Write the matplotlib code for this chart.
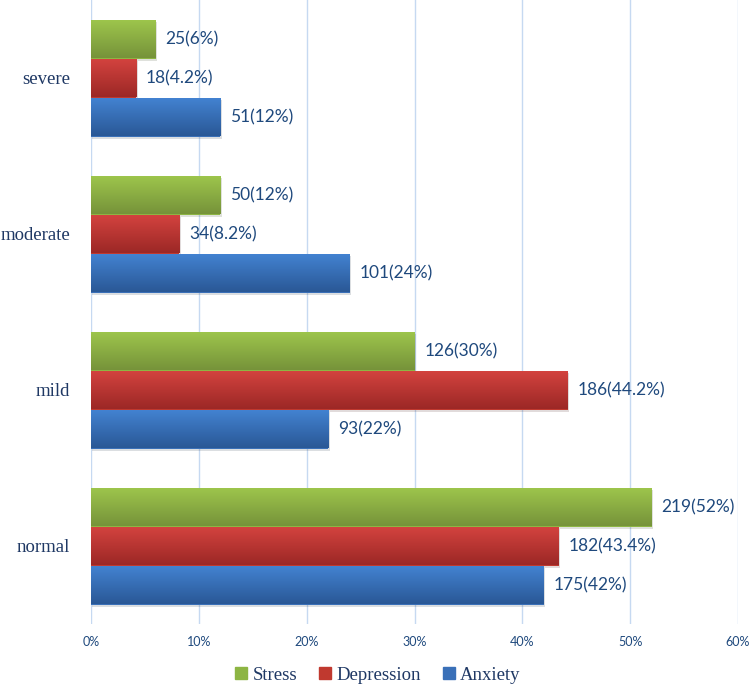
import numpy as np
import matplotlib
matplotlib.use("Agg")
import matplotlib.pyplot as plt
from matplotlib.colors import LinearSegmentedColormap
from matplotlib.patches import Patch
import matplotlib.patheffects as pe

categories = ["normal", "mild", "moderate", "severe"]
series = ["Anxiety", "Depression", "Stress"]

anxiety_pct = [42, 22, 24, 12]
depression_pct = [43.4, 44.2, 8.2, 4.2]
stress_pct = [52, 30, 12, 6]

anxiety_n = [175, 93, 101, 51]
depression_n = [182, 186, 34, 18]
stress_n = [219, 126, 50, 25]

ticks = [0, 10, 20, 30, 40, 50, 60]

# gradient colours (top, bottom) per series
grad = {
    "Anxiety": ("#4383d2", "#2a5896"),
    "Depression": ("#d4433f", "#9c2826"),
    "Stress": ("#9ec64c", "#76933a"),
}
solid = {"Anxiety": "#3a70b8", "Depression": "#c0392f", "Stress": "#8db543"}

navy = "#1f3864"
label_blue = "#1f497d"

fig = plt.figure(figsize=(7.5, 6.86), dpi=100)
ax = fig.add_axes([91 / 750, (686 - 624) / 686, (738 - 91) / 750, 624 / 686])

y = np.arange(len(categories))
h = 0.25
data = [(anxiety_pct, anxiety_n, -h), (depression_pct, depression_n, 0), (stress_pct, stress_n, h)]

gradient = np.linspace(0, 1, 64).reshape(-1, 1)
for name, (pct, n, off) in zip(series, data):
    cmap = LinearSegmentedColormap.from_list(name, [grad[name][1], grad[name][0]])
    bars = ax.barh(y + off, pct, height=h, color=solid[name], zorder=2,
                   path_effects=[pe.SimplePatchShadow(offset=(1, -2), alpha=0.15), pe.Normal()])
    for b, p, c in zip(bars, pct, n):
        x0, y0 = b.get_x(), b.get_y()
        im = ax.imshow(gradient, cmap=cmap, aspect="auto", origin="lower",
                       extent=[x0, x0 + b.get_width(), y0, y0 + b.get_height()], zorder=3)
        im.set_clip_path(b)
        ax.annotate(f"{c}({p:g}%)", (p, y0 + h / 2), xytext=(7, 0), textcoords="offset points",
                    va="center", ha="left", fontsize=12.5, color=label_blue, family="Lato", zorder=4)

ax.set_xlim(0, 60)
ax.set_ylim(-0.5, 3.5)
ax.set_xticks(ticks)
ax.set_xticklabels([f"{t}%" for t in ticks], fontsize=9, color=label_blue, family="Lato")
ax.set_yticks(y)
ax.set_yticklabels(categories, fontsize=13.5, color=navy, family="Liberation Serif")
ax.tick_params(length=0)
ax.tick_params(axis="x", pad=9)
ax.tick_params(axis="y", pad=15)
ax.xaxis.grid(True, color="#c6d9f1", linewidth=1, zorder=0)
ax.set_axisbelow(True)
for s in ax.spines.values():
    s.set_visible(False)

handles = [Patch(color=solid[s]) for s in ["Stress", "Depression", "Anxiety"]]
leg = fig.legend(handles, ["Stress", "Depression", "Anxiety"], loc="center",
                 bbox_to_anchor=(378 / 750, 1 - 675 / 686), ncol=3, frameon=False,
                 prop={"family": "Liberation Serif", "size": 13.5},
                 handlelength=0.6, handleheight=0.6, handletextpad=0.3, columnspacing=1.2)
for t in leg.get_texts():
    t.set_color(navy)

fig.savefig("out.png", dpi=100)
